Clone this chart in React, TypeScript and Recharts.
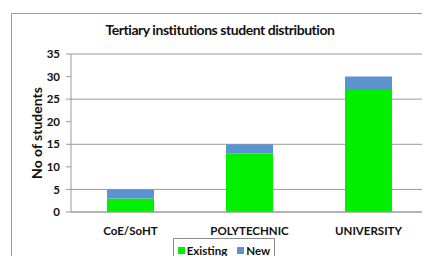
import React from 'react';
import { BarChart, Bar, XAxis, YAxis, CartesianGrid, Legend } from 'recharts';

const institutions = ['CoE/SoHT', 'POLYTECHNIC', 'UNIVERSITY'];
const existing = [3, 13, 27];
const newStudents = [2, 2, 3];
const yTicks = [0, 5, 10, 15, 20, 25, 30, 35];

const data = institutions.map((name, i) => ({
  name,
  Existing: existing[i],
  New: newStudents[i],
}));

const FONT = 'Lato, "Open Sans", sans-serif';

const LegendBox = (props: any) => {
  const items = props.payload || [];
  return (
    <div
      style={{
        display: 'flex',
        alignItems: 'center',
        justifyContent: 'center',
        gap: 10,
        border: '1px solid #8c8c8c',
        height: 24,
        width: 102,
        boxSizing: 'border-box',
        fontFamily: FONT,
        fontWeight: 700,
        fontSize: 11.5,
        color: '#111',
        background: '#fff',
      }}
    >
      {items.map((it: any) => (
        <span key={it.value} style={{ display: 'flex', alignItems: 'center', gap: 2 }}>
          <span style={{ width: 7, height: 7, background: it.color, display: 'inline-block' }} />
          {it.value}
        </span>
      ))}
    </div>
  );
};

export default function App() {
  return (
    <div style={{ margin: -8, width: 430, height: 264, position: 'relative', overflow: 'hidden', background: '#fff' }}>
      <div
        style={{
          position: 'absolute',
          left: 11,
          top: 13,
          width: 440,
          height: 270,
          border: '1px solid #9a9a9a',
        }}
      />
      <div
        style={{
          position: 'absolute',
          left: 0,
          width: 440,
          top: 21,
          textAlign: 'center',
          fontFamily: FONT,
          fontWeight: 700,
          fontSize: 14,
          letterSpacing: -0.45,
          color: '#111',
        }}
      >
        Tertiary institutions student distribution
      </div>
      <div style={{ position: 'absolute', left: 0, top: 0 }}>
        <BarChart
          width={430}
          height={264}
          data={data}
          margin={{ top: 54, right: 2, left: 0, bottom: 0 }}
          barSize={47}
        >
          <CartesianGrid vertical={false} stroke="#9a9a9a" />
          <XAxis
            dataKey="name"
            height={52}
            axisLine={{ stroke: '#9a9a9a' }}
            tickLine={false}
            tickMargin={9}
            tick={{ fill: '#111', fontFamily: FONT, fontWeight: 700, fontSize: 11.5 }}
          />
          <YAxis
            width={71}
            domain={[0, 35]}
            ticks={yTicks}
            axisLine={{ stroke: '#9a9a9a' }}
            tickLine={{ stroke: '#9a9a9a' }}
            tickSize={5}
            tickMargin={6}
            tick={{ fill: '#111', fontFamily: FONT, fontWeight: 700, fontSize: 11.5 }}
            label={{
              value: 'No of students',
              angle: -90,
              position: 'insideLeft',
              offset: 37,
              style: { textAnchor: 'middle', fill: '#111', fontFamily: FONT, fontWeight: 700, fontSize: 14 },
            }}
          />
          <Legend
            layout="horizontal"
            verticalAlign="middle"
            align="center"
            content={<LegendBox />}
            wrapperStyle={{ left: 173, top: 238, width: 102, height: 24 }}
          />
          <Bar dataKey="Existing" stackId="a" fill="#00f000" isAnimationActive={false} />
          <Bar dataKey="New" stackId="a" fill="#5b93cf" isAnimationActive={false} />
        </BarChart>
      </div>
    </div>
  );
}
